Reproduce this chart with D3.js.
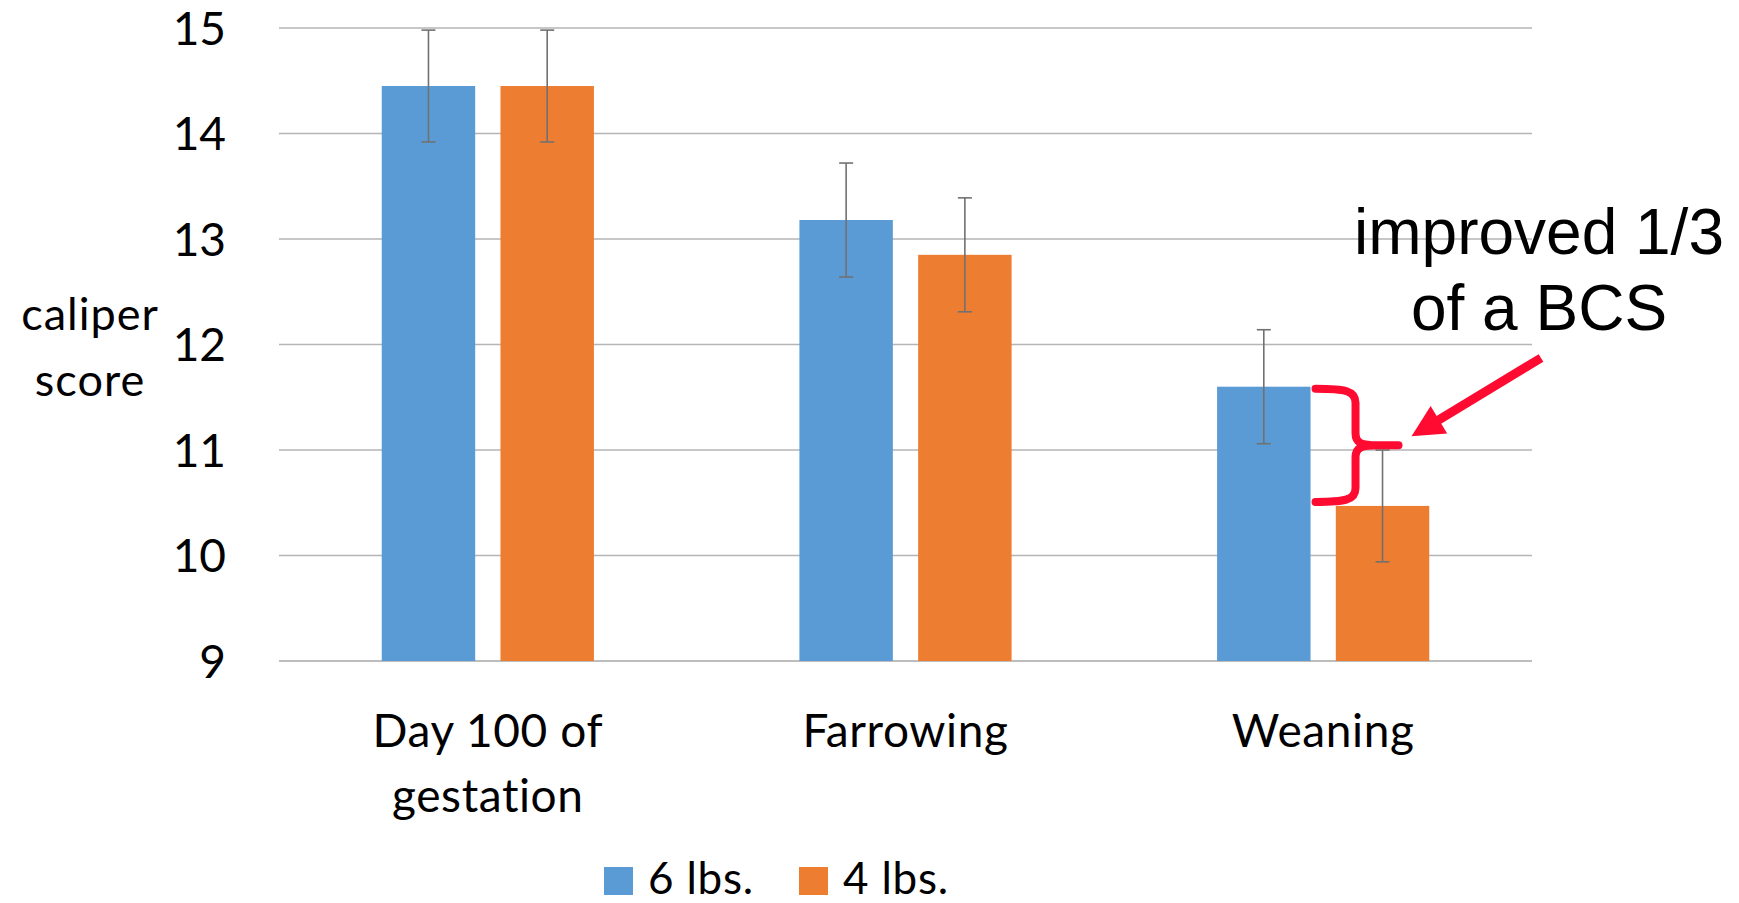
<!DOCTYPE html>
<html>
<head>
<meta charset="utf-8">
<script src="https://cdn.jsdelivr.net/npm/d3@7"></script>
<style>
  html, body { margin: 0; padding: 0; background: #ffffff; }
  svg { display: block; }
</style>
</head>
<body>
<svg id="chart" width="1739" height="903"></svg>
<script>
// ---- data ----
const categories = ["Day 100 of gestation", "Farrowing", "Weaning"];
const categoryLines = [["Day 100 of", "gestation"], ["Farrowing"], ["Weaning"]];
const seriesNames = ["6 lbs.", "4 lbs."];
const values6 = [14.45, 13.18, 11.60];
const values4 = [14.45, 12.85, 10.47];
const err6 = [0.53, 0.54, 0.54];
const err4 = [0.53, 0.54, 0.53];
const yTicks = [9, 10, 11, 12, 13, 14, 15];
const yTitleLines = ["caliper", "score"];
const annotationLines = ["improved 1/3", "of a BCS"];

// ---- layout ----
const svg = d3.select("#chart");
const plotLeft = 279, plotRight = 1532, plotTop = 28, plotBottom = 661;
const colors = { "6 lbs.": "#5B9BD5", "4 lbs.": "#ED7D31" };
const labelFont = "Lato, 'Open Sans', sans-serif";

const x0 = d3.scaleBand().domain(categories).range([plotLeft, plotRight]).padding(0);
const bw = x0.bandwidth();
const x1 = d3.scaleBand().domain(seriesNames).range([bw * 0.246, bw * 0.754]).paddingInner(0.213).paddingOuter(0);
const y = d3.scaleLinear().domain([9, 15]).range([plotBottom, plotTop]);

// gridlines
svg.append("g").selectAll("line").data(yTicks).join("line")
  .attr("x1", plotLeft).attr("x2", plotRight)
  .attr("y1", d => y(d)).attr("y2", d => y(d))
  .attr("stroke", d => d === 9 ? "#bdbdbd" : "#b5b5b5")
  .attr("stroke-width", d => d === 9 ? 2 : 1.6);

// y tick labels
svg.append("g").selectAll("text").data(yTicks).join("text")
  .attr("x", 226).attr("y", d => y(d))
  .attr("dy", "0.36em")
  .attr("text-anchor", "end")
  .attr("font-family", labelFont).attr("font-size", 46)
  .attr("fill", "#000")
  .text(d => d);

// y title
svg.append("g").selectAll("text").data(yTitleLines).join("text")
  .attr("x", 90).attr("y", (d, i) => 330 + i * 66)
  .attr("text-anchor", "middle")
  .attr("font-family", labelFont).attr("font-size", 45)
  .attr("letter-spacing", 1)
  .attr("fill", "#000")
  .text(d => d);

// bars
const rows = categories.map((c, i) => ({
  cat: c,
  items: [
    { s: seriesNames[0], v: values6[i], e: err6[i] },
    { s: seriesNames[1], v: values4[i], e: err4[i] }
  ]
}));

const groups = svg.append("g").selectAll("g").data(rows).join("g")
  .attr("transform", d => `translate(${x0(d.cat)},0)`);

groups.selectAll("rect").data(d => d.items).join("rect")
  .attr("x", d => x1(d.s)).attr("width", x1.bandwidth())
  .attr("y", d => y(d.v)).attr("height", d => y(9) - y(d.v))
  .attr("fill", d => colors[d.s]);

// error bars
const capHalf = 7;
const eb = groups.selectAll("g.err").data(d => d.items).join("g").attr("class", "err")
  .attr("stroke", "#717171").attr("stroke-width", 1.6);
eb.append("line")
  .attr("x1", d => x1(d.s) + x1.bandwidth() / 2).attr("x2", d => x1(d.s) + x1.bandwidth() / 2)
  .attr("y1", d => y(d.v + d.e)).attr("y2", d => y(d.v - d.e));
eb.append("line")
  .attr("x1", d => x1(d.s) + x1.bandwidth() / 2 - capHalf).attr("x2", d => x1(d.s) + x1.bandwidth() / 2 + capHalf)
  .attr("y1", d => y(d.v + d.e)).attr("y2", d => y(d.v + d.e));
eb.append("line")
  .attr("x1", d => x1(d.s) + x1.bandwidth() / 2 - capHalf).attr("x2", d => x1(d.s) + x1.bandwidth() / 2 + capHalf)
  .attr("y1", d => y(d.v - d.e)).attr("y2", d => y(d.v - d.e));

// category labels
const catG = svg.append("g").selectAll("text").data(categories).join("text")
  .attr("text-anchor", "middle")
  .attr("font-family", labelFont).attr("font-size", 46)
  .attr("letter-spacing", 0.6)
  .attr("fill", "#000");
catG.each(function(d, i) {
  const t = d3.select(this);
  categoryLines[i].forEach((line, j) => {
    t.append("tspan")
      .attr("x", x0(d) + bw / 2)
      .attr("y", 746.7 + j * 65)
      .text(line);
  });
});

// legend
const legendX = [604, 799];
const leg = svg.append("g").selectAll("g").data(seriesNames).join("g")
  .attr("transform", (d, i) => `translate(${legendX[i]},867)`);
leg.append("rect").attr("width", 29).attr("height", 28).attr("fill", d => colors[d]);
leg.append("text").attr("x", 44).attr("y", 27)
  .attr("font-family", labelFont).attr("font-size", 44).attr("fill", "#000")
  .attr("letter-spacing", 0.8)
  .text(d => d);

// annotation: brace between the two Weaning bars
const red = "#FF0A31";
const wi = 2;
const xb = x0(categories[wi]) + x1(seriesNames[0]) + x1.bandwidth() + 5;
const yTop = y(values6[wi]) + 2;
const yBot = y(values4[wi]) - 4;
const mid = (yTop + yBot) / 2;
const brace = d3.path();
brace.moveTo(xb, yTop);
brace.bezierCurveTo(xb + 30, yTop, xb + 40, yTop + 2, xb + 40, yTop + 14);
brace.lineTo(xb + 40, mid - 12);
brace.bezierCurveTo(xb + 40, mid - 2, xb + 46, mid, xb + 62, mid);
brace.lineTo(xb + 83, mid);
brace.moveTo(xb + 62, mid);
brace.bezierCurveTo(xb + 46, mid, xb + 40, mid + 2, xb + 40, mid + 12);
brace.lineTo(xb + 40, yBot - 14);
brace.bezierCurveTo(xb + 40, yBot - 2, xb + 30, yBot, xb, yBot);
svg.append("path").attr("d", brace.toString())
  .attr("fill", "none").attr("stroke", red).attr("stroke-width", 8)
  .attr("stroke-linecap", "round").attr("stroke-linejoin", "round");

// arrow
const tip = [xb + 96, mid - 9];
const tail = [1541, 358];
const ang = Math.atan2(tail[1] - tip[1], tail[0] - tip[0]);
const headLen = 32, headHalf = 16;
const baseC = [tip[0] + headLen * Math.cos(ang), tip[1] + headLen * Math.sin(ang)];
const perp = [-Math.sin(ang), Math.cos(ang)];
svg.append("line")
  .attr("x1", tail[0]).attr("y1", tail[1])
  .attr("x2", baseC[0] - 2 * Math.cos(ang)).attr("y2", baseC[1] - 2 * Math.sin(ang))
  .attr("stroke", red).attr("stroke-width", 9);
svg.append("path")
  .attr("d", `M${tip[0]},${tip[1]} L${baseC[0] + perp[0] * headHalf},${baseC[1] + perp[1] * headHalf} L${baseC[0] - perp[0] * headHalf},${baseC[1] - perp[1] * headHalf} Z`)
  .attr("fill", red);

// annotation text
svg.append("g").selectAll("text").data(annotationLines).join("text")
  .attr("x", 1539).attr("y", (d, i) => 254 + i * 76)
  .attr("text-anchor", "middle")
  .attr("font-family", "'Liberation Sans', Arial, sans-serif").attr("font-size", 64)
  .attr("fill", "#000")
  .text(d => d);
</script>
</body>
</html>
